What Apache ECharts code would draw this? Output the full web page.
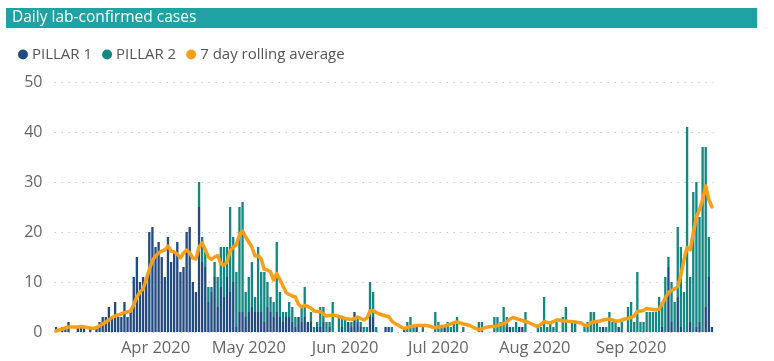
<!DOCTYPE html>
<html><head><meta charset="utf-8">
<script src="https://cdn.jsdelivr.net/npm/echarts@6/dist/echarts.min.js"></script>
<style>html,body{margin:0;padding:0;background:#fff}#c{width:774px;height:361px}</style>
</head><body><div id="c"></div>
<script>
const titleText = 'Daily lab-confirmed cases';
const seriesNames = ['PILLAR 1', 'PILLAR 2', '7 day rolling average'];
const startDate = '2020-02-29';
const dayCount = 212;
const yTicks = [0, 10, 20, 30, 40, 50];
const monthNames = ['Jan','Feb','Mar','Apr','May','Jun','Jul','Aug','Sep','Oct','Nov','Dec'];

const pillar1 = [
1,0,1,1,2,0,0,1,1,1,
0,1,0,1,2,3,3,5,3,6,
3,3,6,3,4,11,15,10,11,11,
20,21,17,18,15,11,19,14,16,18,
12,13,20,21,10,8,25,14,13,6,
8,11,5,9,7,11,8,10,1,4,
4,3,4,5,4,4,4,2,5,4,
3,4,3,2,3,3,2,1,3,2,
3,2,2,0,1,1,2,0,1,0,
0,0,1,0,2,1,4,2,1,0,
0,3,3,0,0,0,1,1,0,0,
0,0,1,0,0,0,1,0,0,0,
0,0,0,0,0,1,0,0,0,0,
0,0,0,0,0,0,0,0,0,0,
0,0,0,0,0,1,1,0,0,1,
1,0,0,0,0,0,0,0,0,0,
0,0,0,0,0,0,0,0,0,0,
0,0,0,0,0,0,1,0,0,0,
0,1,0,0,0,0,0,0,0,0,
0,0,0,0,0,1,0,13,2,0,
7,1,0,0,2,0,1,2,0,5,
11,1];

const pillar2 = [
0,0,0,0,0,0,0,0,0,0,
0,0,0,0,0,0,0,0,0,0,
0,0,0,0,0,0,0,0,0,0,
0,0,0,0,0,0,0,0,0,0,
0,0,0,0,0,0,5,5,3,3,
1,3,6,8,10,6,17,9,11,21,
22,5,7,9,3,13,8,10,5,3,
3,14,5,2,1,3,3,2,0,3,
6,0,2,1,1,4,3,2,1,6,
0,3,2,3,0,1,0,1,1,1,
1,7,5,1,0,0,0,0,1,0,
0,0,0,2,3,1,0,0,1,0,
0,0,4,2,1,0,2,1,2,3,
0,1,0,0,0,0,2,2,0,0,
0,3,3,2,5,2,0,1,2,0,
0,4,0,0,0,1,1,7,1,2,
1,2,0,3,5,0,2,2,0,0,
1,2,4,4,2,1,0,1,4,2,
2,0,2,0,5,6,2,12,2,2,
4,4,4,4,7,5,11,2,8,6,
14,16,8,41,9,28,29,21,37,32,
8,0];

const rollingAvg = [
0.2,0.4,0.6,0.8,1.0,1.0,1.0,1.0,1.1,1.0,
0.9,0.8,0.7,0.9,1.2,1.6,2.0,2.4,2.9,3.2,
3.4,3.6,3.9,4.0,4.2,5.5,7.0,8.0,8.6,10.5,
12.5,14.3,15.2,15.8,16.2,16.4,17.2,16.2,16.0,15.6,
14.8,15.8,16.4,15.8,14.8,14.6,17.0,17.8,16.5,15.0,
14.5,15.0,15.3,13.6,13.4,14.0,16.2,17.0,17.4,19.5,
20.2,19.0,18.0,17.0,15.2,15.3,14.6,12.5,12.4,12.0,
10.4,11.7,10.5,9.2,7.9,7.5,7.2,7.0,5.5,5.0,
5.3,5.1,4.8,4.2,4.1,4.1,3.6,3.2,3.3,3.4,
3.3,3.1,2.9,2.7,2.6,2.5,2.7,3.0,2.7,2.4,
2.8,4.2,4.3,3.9,3.6,3.4,3.2,3.1,2.2,1.7,
1.4,1.0,0.7,0.9,1.1,1.2,1.3,1.3,1.3,1.3,
1.2,1.0,0.9,1.0,1.1,1.2,1.4,1.6,1.9,2.0,
1.8,1.6,1.5,1.3,1.0,0.7,0.5,0.6,0.9,1.0,
1.1,1.1,1.3,1.5,1.7,2.0,2.6,2.9,2.7,2.5,
2.3,2.1,1.9,1.6,1.3,1.1,1.5,2.1,1.9,1.8,
2.1,2.4,2.4,2.2,2.2,2.1,2.1,2.0,1.9,1.8,
1.3,1.3,1.8,2.0,2.1,2.2,2.4,2.5,2.6,2.4,
2.2,2.2,2.4,2.6,2.7,2.9,3.2,4.1,4.2,4.3,
4.7,4.6,4.5,4.4,4.6,5.6,6.8,7.9,8.3,8.6,
9.1,11.3,14.5,16.9,16.4,19.8,23.0,24.5,26.5,29.2,
26.5,25.0];

const categories = [];
(function () {
  const p = startDate.split('-').map(Number);
  for (let i = 0; i < dayCount; i++) {
    const d = new Date(Date.UTC(p[0], p[1] - 1, p[2] + i));
    const m = String(d.getUTCMonth() + 1).padStart(2, '0');
    const dd = String(d.getUTCDate()).padStart(2, '0');
    categories.push(d.getUTCFullYear() + '-' + m + '-' + dd);
  }
})();

const FONT = '"Open Sans", "Noto Sans", sans-serif';
const C1 = '#234b80', C2 = '#128882', C3 = '#fa9f17';

const chart = echarts.init(document.getElementById('c'), null, { renderer: 'canvas' });
chart.setOption({
  animation: false,
  textStyle: { fontFamily: FONT },
  graphic: [
    { type: 'rect', left: 6, top: 8, shape: { width: 751, height: 20 }, style: { fill: '#1fa2a3' } },
    { type: 'text', left: 12, top: 8, style: { text: titleText, fill: '#ffffff', font: '15.5px ' + FONT, lineHeight: 20, textVerticalAlign: 'top' } }
  ],
  legend: {
    left: 13, top: 42, itemWidth: 10, itemHeight: 10, itemGap: 10, icon: 'circle',
    textStyle: { fontSize: 15, color: '#555', fontFamily: FONT, padding: [0, 0, 0, -1] },
    data: seriesNames
  },
  grid: { left: 54.5, width: 659, top: 82, bottom: 29, containLabel: false },
  xAxis: {
    type: 'category', data: categories, boundaryGap: true,
    axisLine: { show: false }, axisTick: { show: false },
    axisLabel: {
      color: '#666', fontSize: 16.5, fontFamily: FONT, margin: 8,
      interval: function (idx, val) { return val.slice(8) === '01' && val.slice(5, 7) !== '03'; },
      formatter: function (val) { return monthNames[Number(val.slice(5, 7)) - 1] + ' ' + val.slice(0, 4); }
    },
    splitLine: { show: false }
  },
  yAxis: {
    type: 'value', min: yTicks[0], max: yTicks[yTicks.length - 1], interval: 10,
    axisLine: { show: false }, axisTick: { show: false },
    axisLabel: { color: '#666', fontSize: 16, fontFamily: FONT, margin: 12 },
    splitLine: { lineStyle: { color: '#c8c8c8', type: [1.5, 5.5], width: 1 } }
  },
  series: [
    { name: seriesNames[0], type: 'bar', stack: 'cases', data: pillar1, itemStyle: { color: C1 }, barCategoryGap: '25%' },
    { name: seriesNames[1], type: 'bar', stack: 'cases', data: pillar2, itemStyle: { color: C2 }, barCategoryGap: '25%' },
    { name: seriesNames[2], type: 'line', data: rollingAvg, showSymbol: false, symbol: 'none', smooth: false,
      lineStyle: { color: C3, width: 3.5, join: 'round', cap: 'round' }, itemStyle: { color: C3 }, z: 5 }
  ]
});
</script>
</body></html>
